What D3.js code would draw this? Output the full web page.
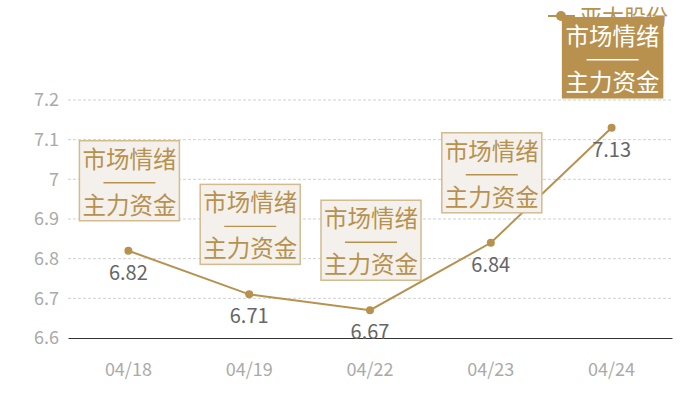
<!DOCTYPE html>
<html><head><meta charset="utf-8">
<script src="https://cdn.jsdelivr.net/npm/d3@7"></script>
<style>body{margin:0;background:#fff}svg{display:block}</style>
</head><body><svg id="c" width="700" height="400"></svg>
<script>
const categories = ["04/18","04/19","04/22","04/23","04/24"];
const values = [6.82, 6.71, 6.67, 6.84, 7.13];
const yTicks = [6.6, 6.7, 6.8, 6.9, 7.0, 7.1, 7.2];
const seriesName = "亚太股份";
const annoTop = "市场情绪";
const annoBottom = "主力资金";

const FONT = "'Noto Sans CJK SC','Noto Sans',sans-serif";
const gold = "#b8914f";
const svg = d3.select("#c");
const m = {l:68, r:28, t:100, b:62};
const W = 700, H = 400;
const x = d3.scaleBand().domain(categories).range([m.l, W-m.r]);
const y = d3.scaleLinear().domain([6.6, 7.2]).range([H-m.b, m.t]);

// grid
svg.append("g").selectAll("line").data(yTicks.slice(1)).join("line")
  .attr("x1", m.l).attr("x2", W-m.r)
  .attr("y1", d=>y(d)).attr("y2", d=>y(d))
  .attr("stroke", "#d0d0d0").attr("stroke-dasharray","3,2").attr("stroke-width",1);

// y axis
const ya = svg.append("g").attr("transform",`translate(${m.l},0)`)
  .call(d3.axisLeft(y).tickValues(yTicks).tickSize(0).tickPadding(9).tickFormat(d=>d3.format("")(+d.toFixed(1))));
ya.select(".domain").remove();
ya.selectAll("text").attr("font-family",FONT).attr("font-size",18).attr("fill","#aaaaaa");

// x axis
const xa = svg.append("g").attr("transform",`translate(0,${H-m.b})`)
  .call(d3.axisBottom(x).tickSize(0).tickPadding(25));
xa.select(".domain").attr("stroke","#333").attr("stroke-width",1);
xa.selectAll("text").attr("font-family",FONT).attr("font-size",18).attr("fill","#aaaaaa");

const cx = d => x(d) + x.bandwidth()/2;
const pts = categories.map((c,i)=>({c, v:values[i], i}));

// line
svg.append("path").datum(pts)
  .attr("d", d3.line().x(d=>cx(d.c)).y(d=>y(d.v)))
  .attr("fill","none").attr("stroke",gold).attr("stroke-width",2);

svg.append("g").selectAll("circle").data(pts).join("circle")
  .attr("cx",d=>cx(d.c)).attr("cy",d=>y(d.v)).attr("r",4).attr("fill",gold);

// value labels
svg.append("g").selectAll("text").data(pts).join("text")
  .attr("x",d=>cx(d.c)).attr("y",d=>y(d.v)+29)
  .attr("text-anchor","middle").attr("font-family",FONT).attr("font-size",20)
  .attr("fill","#666").text(d=>d.v);

// legend
const lg = svg.append("g");
lg.append("line").attr("x1",548).attr("x2",575).attr("y1",16).attr("y2",16).attr("stroke",gold).attr("stroke-width",2);
lg.append("circle").attr("cx",561).attr("cy",16).attr("r",5).attr("fill",gold);
lg.append("text").attr("x",580).attr("y",25).attr("font-family",FONT).attr("font-size",22).attr("fill",gold).text(seriesName);

// annotations
const bw = 100, bh = 80;
const ag = svg.append("g").selectAll("g").data(pts).join("g")
  .attr("transform", d=>`translate(${cx(d.c)-bw/2+1},${y(d.v)-30-bh})`);
ag.append("rect").attr("width",bw).attr("height",bh)
  .attr("fill", d=>d.i===pts.length-1? gold : "#f4f1ec")
  .attr("stroke", d=>d.i===pts.length-1? gold : "#d3bb8f").attr("stroke-width",1.5);
const tc = d=>d.i===pts.length-1? "#fff" : gold;
ag.append("text").attr("x",bw/2).attr("y",27).attr("text-anchor","middle")
  .attr("font-family",FONT).attr("font-size",23.5).attr("fill",tc).text(annoTop);
ag.append("line").attr("x1",bw/2-26).attr("x2",bw/2+26).attr("y1",42).attr("y2",42)
  .attr("stroke",tc).attr("stroke-width",1.4);
ag.append("text").attr("x",bw/2).attr("y",73).attr("text-anchor","middle")
  .attr("font-family",FONT).attr("font-size",23.5).attr("fill",tc).text(annoBottom);
</script></body></html>
